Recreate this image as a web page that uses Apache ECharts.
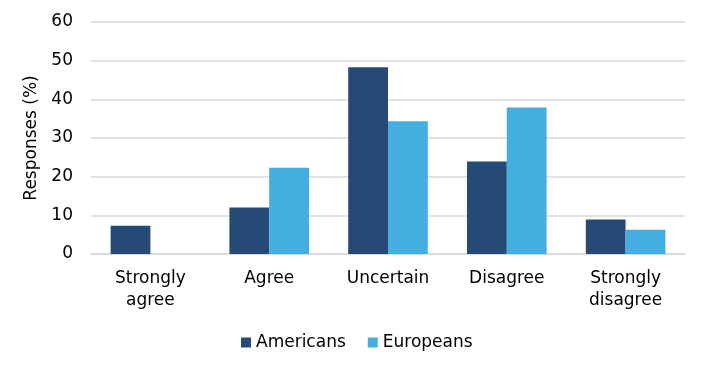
<!DOCTYPE html>
<html><head><meta charset="utf-8">
<script src="https://cdn.jsdelivr.net/npm/echarts@6/dist/echarts.min.js"></script>
<style>html,body{margin:0;padding:0;background:#fff}#c{width:726px;height:374px}</style>
</head><body><div id="c"></div>
<script>
const categories = ['Strongly\nagree', 'Agree', 'Uncertain', 'Disagree', 'Strongly\ndisagree'];
const americans = [7.3, 12.0, 48.3, 23.9, 8.9];
const europeans = [0, 22.3, 34.3, 37.9, 6.3];
const yTicks = [0, 10, 20, 30, 40, 50, 60];

const font = 'DejaVu Sans';
const fs = 17;
const chart = echarts.init(document.getElementById('c'), null, {renderer: 'canvas'});
chart.setOption({
  animation: false,
  textStyle: {fontFamily: font},
  grid: {left: 91, right: 41, top: 22, bottom: 120},
  legend: {
    top: 329, left: 236, itemWidth: 10, itemHeight: 10, itemGap: 22,
    icon: 'rect',
    textStyle: {fontFamily: font, fontSize: fs, color: '#000'},
    data: ['Americans', 'Europeans']
  },
  xAxis: {
    type: 'category', data: categories,
    axisLine: {lineStyle: {color: '#d9d9d9', width: 1.5}},
    axisTick: {show: false},
    axisLabel: {fontFamily: font, fontSize: fs, color: '#000', margin: 14, lineHeight: 22}
  },
  yAxis: {
    type: 'value', min: yTicks[0], max: yTicks[yTicks.length - 1], interval: 10,
    name: 'Responses (%)', nameLocation: 'middle', nameGap: 47, nameRotate: 90,
    nameTextStyle: {fontFamily: font, fontSize: fs, color: '#000'},
    axisLine: {show: false}, axisTick: {show: false},
    axisLabel: {fontFamily: font, fontSize: fs, color: '#000', margin: 18},
    splitLine: {lineStyle: {color: '#d9d9d9', width: 1.5}}
  },
  series: [
    {name: 'Americans', type: 'bar', data: americans, barGap: '0%', barCategoryGap: '33%',
     itemStyle: {color: '#244A75'}},
    {name: 'Europeans', type: 'bar', data: europeans, barGap: '0%', barCategoryGap: '33%',
     itemStyle: {color: '#45AEE0'}}
  ]
});
</script></body></html>
